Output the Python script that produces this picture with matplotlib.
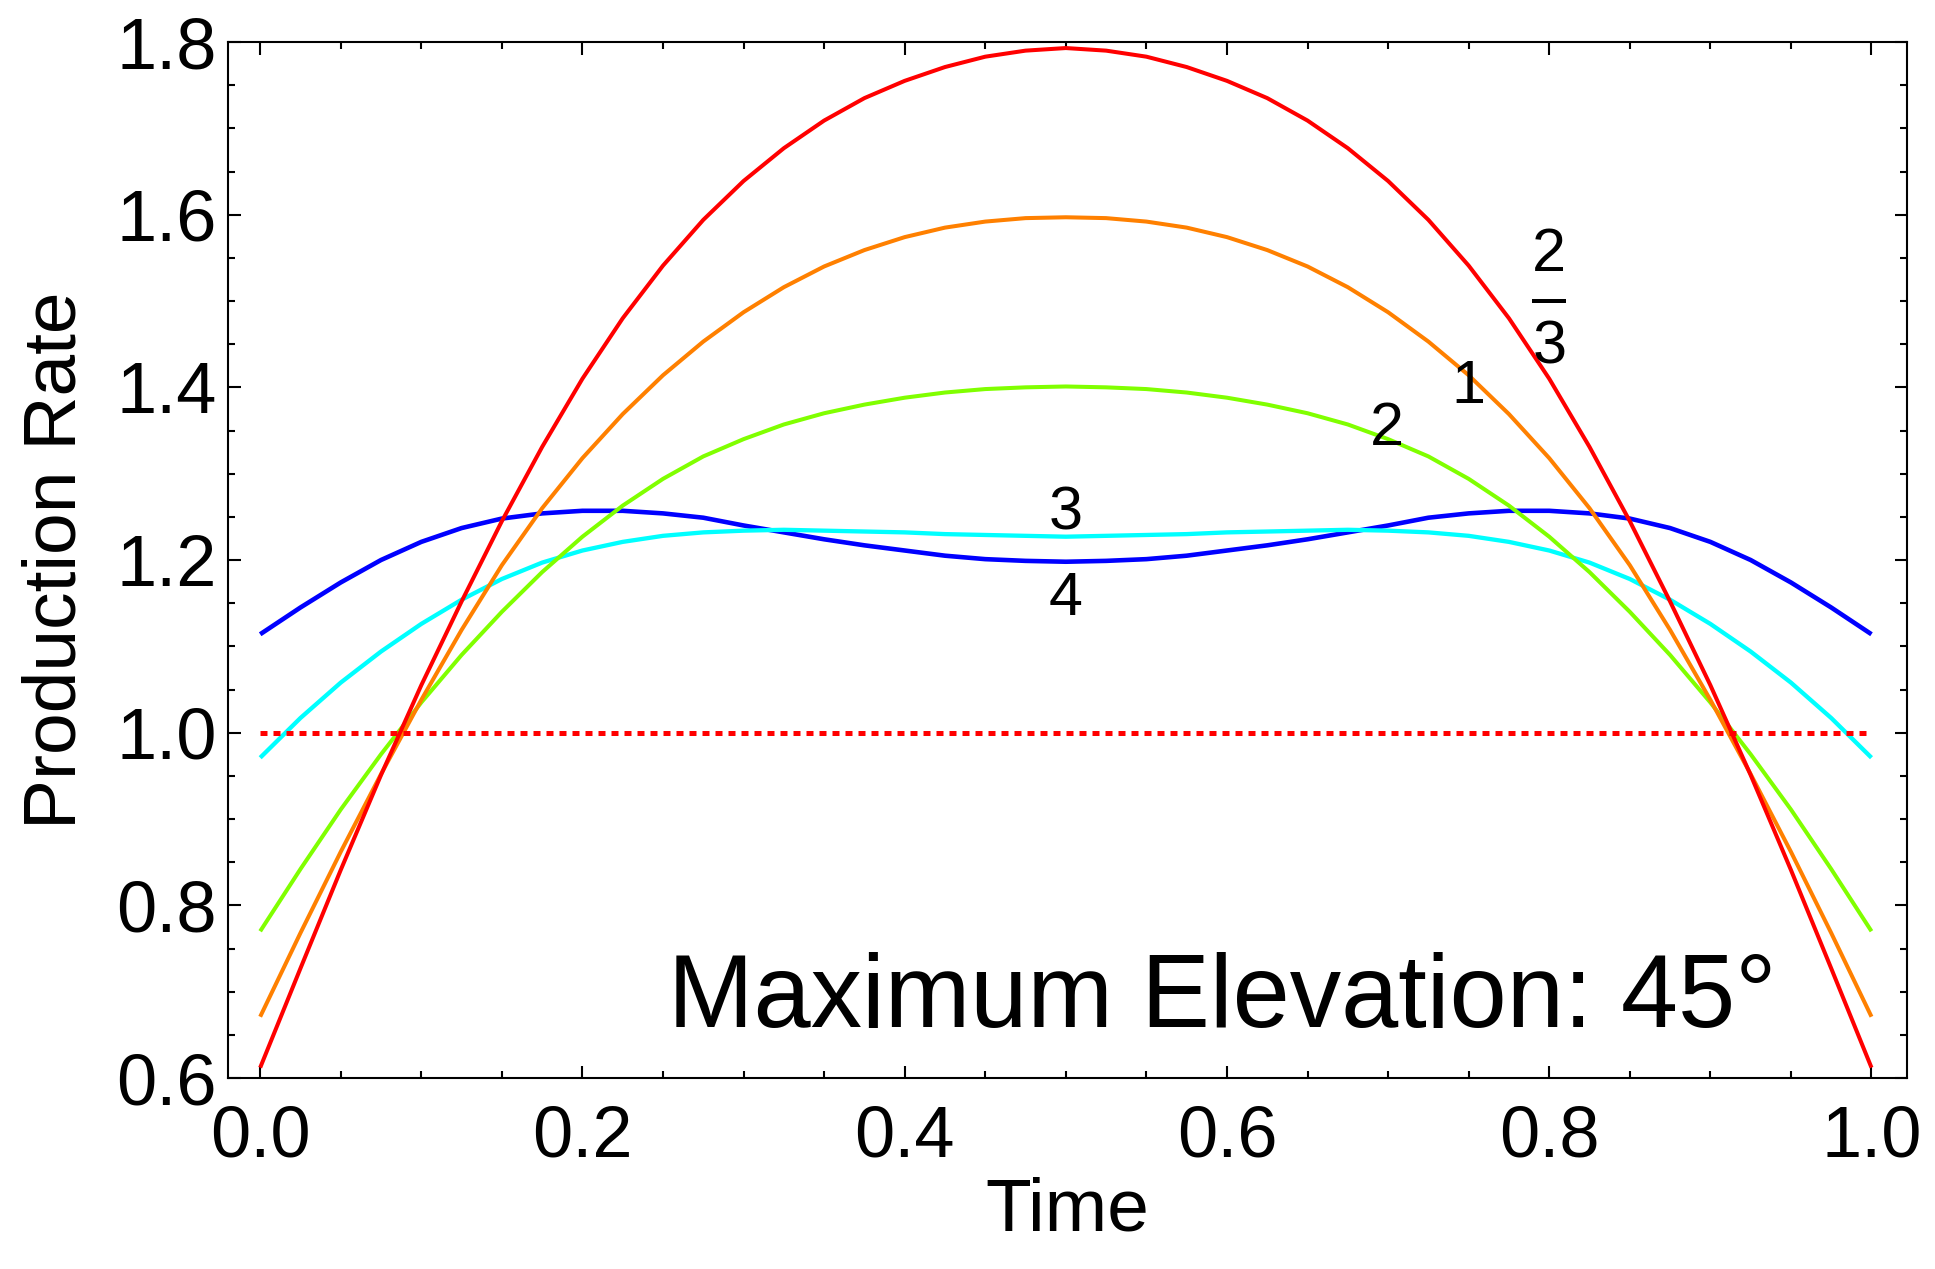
import numpy as np
import matplotlib
matplotlib.use("Agg")
import matplotlib.pyplot as plt
from matplotlib.ticker import MultipleLocator

plt.rcParams['font.family'] = ['Liberation Sans', 'DejaVu Sans']

# time grid, one sample every 0.025
time = np.linspace(0.0, 1.0, 41)

rate_2_3 = [0.612, 0.727, 0.841, 0.951, 1.055, 1.152, 1.245, 1.331, 1.410, 1.480,
            1.541, 1.594, 1.639, 1.677, 1.709, 1.735, 1.755, 1.771, 1.783, 1.790,
            1.793,
            1.790, 1.783, 1.771, 1.755, 1.735, 1.709, 1.677, 1.639, 1.594, 1.541,
            1.480, 1.410, 1.331, 1.245, 1.152, 1.055, 0.951, 0.841, 0.727, 0.612]
rate_1 = [0.671, 0.768, 0.862, 0.952, 1.038, 1.119, 1.194, 1.260, 1.318, 1.369,
          1.414, 1.453, 1.487, 1.516, 1.540, 1.559, 1.574, 1.585, 1.592, 1.596,
          1.597,
          1.596, 1.592, 1.585, 1.574, 1.559, 1.540, 1.516, 1.487, 1.453, 1.414,
          1.369, 1.318, 1.260, 1.194, 1.119, 1.038, 0.952, 0.862, 0.768, 0.671]
rate_2 = [0.770, 0.842, 0.911, 0.975, 1.035, 1.090, 1.140, 1.186, 1.227, 1.263,
          1.294, 1.320, 1.340, 1.357, 1.370, 1.380, 1.388, 1.394, 1.398, 1.400,
          1.401,
          1.400, 1.398, 1.394, 1.388, 1.380, 1.370, 1.357, 1.340, 1.320, 1.294,
          1.263, 1.227, 1.186, 1.140, 1.090, 1.035, 0.975, 0.911, 0.842, 0.770]
rate_3 = [0.971, 1.017, 1.058, 1.094, 1.126, 1.154, 1.178, 1.197, 1.211, 1.221,
          1.228, 1.232, 1.234, 1.235, 1.234, 1.233, 1.232, 1.230, 1.229, 1.228,
          1.227,
          1.228, 1.229, 1.230, 1.232, 1.233, 1.234, 1.235, 1.234, 1.232, 1.228,
          1.221, 1.211, 1.197, 1.178, 1.154, 1.126, 1.094, 1.058, 1.017, 0.971]
rate_4 = [1.114, 1.145, 1.174, 1.200, 1.221, 1.237, 1.248, 1.254, 1.257, 1.257,
          1.254, 1.249, 1.240, 1.232, 1.224, 1.217, 1.211, 1.205, 1.201, 1.199,
          1.198,
          1.199, 1.201, 1.205, 1.211, 1.217, 1.224, 1.232, 1.240, 1.249, 1.254,
          1.257, 1.257, 1.254, 1.248, 1.237, 1.221, 1.200, 1.174, 1.145, 1.114]

ref_time = [0.0, 1.0]
ref_rate = [1.0, 1.0]

fig = plt.figure(figsize=(19.35, 12.69), dpi=100)
ax = fig.add_axes([0.1178, 0.1505, 0.8677, 0.8164])

line = dict(solid_joinstyle='round', solid_capstyle='butt')
ax.plot(time, rate_4, color='#0000ff', lw=3.3, **line)
ax.plot(time, rate_3, color='#00ffff', lw=3.1, **line)
ax.plot(time, rate_2, color='#80ff00', lw=2.9, **line)
ax.plot(time, rate_1, color='#ff8000', lw=2.9, **line)
ax.plot(time, rate_2_3, color='#ff0000', lw=2.9, **line)
ax.plot(ref_time, ref_rate, color='#ff0000', lw=3.6,
        ls=(0, (1.4, 1.2)), dash_capstyle='butt')

# curve labels
lab = dict(fontsize=44, ha='center', va='baseline')
ax.text(0.800, 1.499, '2\n\u2013\n3', fontsize=44, ha='center', va='center',
        multialignment='center', linespacing=0.75)
ax.text(0.750, 1.382, '1', **lab)
ax.text(0.699, 1.333, '2', **lab)
ax.text(0.500, 1.235, '3', **lab)
ax.text(0.500, 1.136, '4', **lab)

ax.text(0.941, 0.659, 'Maximum Elevation: 45\u00b0', fontsize=74,
        ha='right', va='baseline')

ax.set_xlim(-0.02, 1.022)
ax.set_ylim(0.6, 1.8)
ax.xaxis.set_major_locator(MultipleLocator(0.2))
ax.xaxis.set_minor_locator(MultipleLocator(0.05))
ax.yaxis.set_major_locator(MultipleLocator(0.2))
ax.yaxis.set_minor_locator(MultipleLocator(0.05))
ax.xaxis.set_major_formatter(lambda v, p: f'{v:.1f}')
ax.yaxis.set_major_formatter(lambda v, p: f'{v:.1f}')
ax.tick_params(which='both', direction='in', top=True, right=True,
               width=1.5, labelsize=52)
ax.tick_params(which='major', length=9)
ax.tick_params(which='minor', length=5)
ax.tick_params(axis='x', pad=19)
ax.tick_params(axis='y', pad=8)
for s in ax.spines.values():
    s.set_linewidth(1.5)

ax.set_xlabel('Time', fontsize=54, va='baseline')
ax.set_ylabel('Production Rate', fontsize=54)
ax.xaxis.set_label_coords(0.5, -0.147)
ax.yaxis.set_label_coords(-0.082, 0.5)

fig.savefig('out.png', dpi=100)
